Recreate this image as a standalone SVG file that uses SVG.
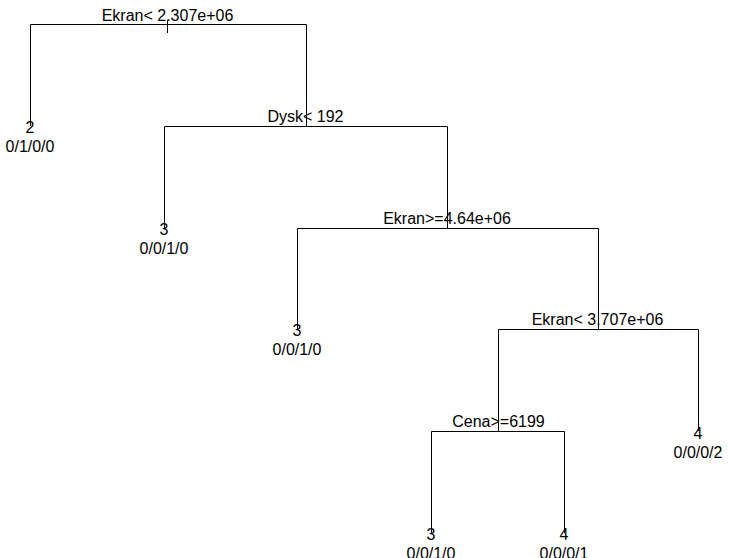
<svg xmlns="http://www.w3.org/2000/svg" width="729" height="558" viewBox="0 0 729 558">
<style>
text{font-family:"Liberation Sans",Arial,sans-serif;font-size:16px;fill:#000;text-anchor:middle}
.e{fill:none;stroke:#000;stroke-width:1}
</style>
<rect width="729" height="558" fill="#fff"/>
<g id="connectors">
<path class="e" d="M167.5 20V33M30.5 126V24.5H306.5V126.5M164.5 228V126.5H447.5V228.5M297.5 329V228.5H598.5V329.5M498.5 431.5V329.5H698.5V431M431.5 533V431.5H564.5V533"/>
</g>
<g id="n1"><text x="167.5" y="21">Ekran&lt; 2.307e+06</text></g>
<g id="n2"><text x="30" y="133">2</text><text x="30" y="152">0/1/0/0</text></g>
<g id="n3"><text x="305.5" y="122">Dysk&lt; 192</text></g>
<g id="n6"><text x="164" y="235">3</text><text x="164" y="254">0/0/1/0</text></g>
<g id="n7"><text x="447" y="224">Ekran&gt;=4.64e+06</text></g>
<g id="n14"><text x="297" y="336">3</text><text x="297" y="355">0/0/1/0</text></g>
<g id="n15"><text x="597.5" y="325">Ekran&lt; 3.707e+06</text></g>
<g id="n30"><text x="498.5" y="427">Cena&gt;=6199</text></g>
<g id="n31"><text x="698" y="439">4</text><text x="698" y="458">0/0/0/2</text></g>
<g id="n60"><text x="431" y="540">3</text><text x="431" y="559">0/0/1/0</text></g>
<g id="n61"><text x="564" y="540">4</text><text x="564" y="559">0/0/0/1</text></g>
</svg>
